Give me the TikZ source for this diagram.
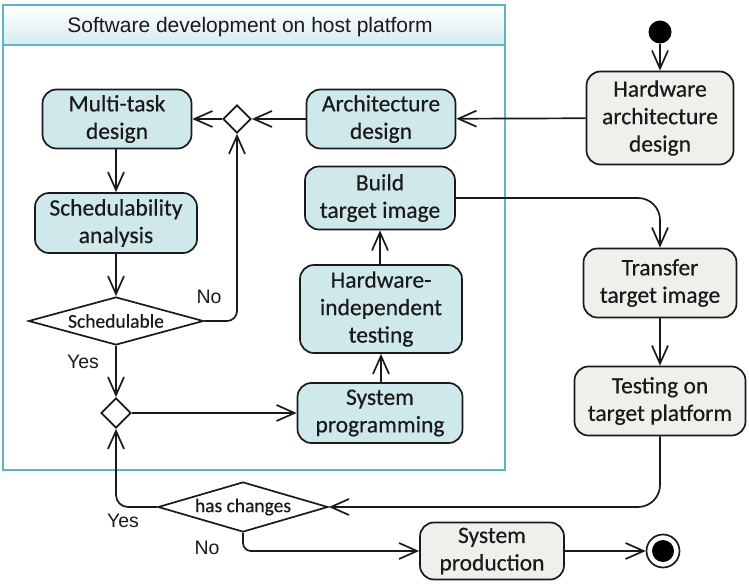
\documentclass[tikz,border=0pt]{standalone}
\usepackage{fontspec}
\usetikzlibrary{shapes.geometric,arrows.meta,positioning}
\newfontfamily\calfont[FakeBold=0.4]{Carlito}
\newfontfamily\arifont{Liberation Sans}
\definecolor{bluefill}{HTML}{CFE8EC}
\definecolor{grayfill}{HTML}{EFEFEC}
\definecolor{frame}{HTML}{5BB5C9}
\definecolor{ink}{HTML}{1A1A1A}
\tikzset{
  act/.style={draw=ink, line width=1.7pt, rounded corners=14pt, align=center, inner sep=2pt,
    font=\calfont\fontsize{23.5}{27.5}\selectfont, text=ink},
  blue/.style={act, fill=bluefill},
  gray/.style={act, fill=grayfill},
  dec/.style={draw=ink, line width=1.7pt, diamond, fill=white, inner sep=0pt,
    font=\calfont\fontsize{19.5}{21}\selectfont, text=ink},
  arr/.style={draw=ink, line width=1.7pt, -{Straight Barb[length=18pt,width=16pt,line width=1.7pt]}},
  lbl/.style={font=\arifont\fontsize{19.5}{22}\selectfont, text=ink, inner sep=0pt}
}
\begin{document}
\begin{tikzpicture}[x=1pt,y=-1pt]
\useasboundingbox (0,0) rectangle (749,585);
% container
\shade[top color=white, bottom color=bluefill!85] (3,5) rectangle (505,45);
\draw[frame, line width=1.6pt] (3,45) -- (505,45);
\draw[frame, line width=2pt] (3,5) rectangle (505,470);
\node[font=\arifont\fontsize{21}{24}\selectfont, text=ink] (title) at (250,27) {Software development on host platform};

% blue nodes
\node[blue, minimum width=149pt, minimum height=59pt] (mt) at (117,119) {Multi-task\\design};
\node[blue, minimum width=162pt, minimum height=60pt] (sa) at (116,223) {Schedulability\\analysis};
\node[blue, minimum width=149pt, minimum height=59pt] (ad) at (381,119) {Architecture\\design};
\node[blue, minimum width=150pt, minimum height=63pt] (bt) at (380,198) {Build\\target image};
\node[blue, minimum width=162pt, minimum height=88pt] (hi) at (381,309) {Hardware-\\independent\\testing};
\node[blue, minimum width=165pt, minimum height=60pt] (sp) at (380,413) {System\\programming};

% decisions
\node[dec, minimum width=28pt, minimum height=28pt] (d1) at (237,119) {};
\node[dec, aspect=3.6, minimum width=175pt, minimum height=48pt] (sch) at (116,321) {Schedulable};
\node[dec, minimum width=30pt, minimum height=30pt] (d2) at (116,413) {};
\node[dec, aspect=3.4, minimum width=170pt, minimum height=50pt] (hc) at (243,507) {has changes};

% gray nodes
\node[gray, minimum width=147pt, minimum height=93pt] (ha) at (660,118) {Hardware\\architecture\\design};
\node[gray, minimum width=153pt, minimum height=69pt] (tt) at (660,283) {Transfer\\target image};
\node[gray, minimum width=171pt, minimum height=69pt] (tp) at (660,401) {Testing on\\target platform};
\node[gray, minimum width=144pt, minimum height=57pt] (ps) at (492,551) {System\\production};

% initial / final
\node[circle, fill=black, minimum size=23pt, inner sep=0pt] (init) at (660,32) {};
\node[circle, draw=ink, line width=1.7pt, fill=white, minimum size=33pt, inner sep=0pt] (fin) at (663,551) {};
\node[circle, fill=black, minimum size=22pt, inner sep=0pt] (finin) at (fin) {};

% connectors
\draw[arr] (init) -- (ha);
\draw[arr] (ha) -- (ad);
\draw[arr] (ad) -- (d1);
\draw[arr] (d1) -- (mt);
\draw[arr] (mt.south -| sa.north) -- (sa.north);
\draw[arr] (sa) -- (sch);
\draw[arr, rounded corners=10pt] (sch.east) -| (d1.south);
\draw[arr] (sch) -- (d2);
\draw[arr] (d2) -- (sp);
\draw[arr] (sp.north -| hi.south) -- (hi.south);
\draw[arr] (hi.north -| bt.south) -- (bt.south);
\draw[arr, rounded corners=22pt] (bt.east) -| (tt.north);
\draw[arr] (tt) -- (tp);
\draw[arr, rounded corners=22pt] (tp.south) |- (hc.east);
\draw[arr, rounded corners=12pt] (hc.west) -| (d2.south);
\draw[arr, rounded corners=8pt] (hc.south) |- (ps.west);
\draw[arr] (ps) -- (fin);

% labels
\node[lbl] (lno1) at (209,297) {No};
\node[lbl] (lyes1) at (83,362) {Yes};
\node[lbl] (lyes2) at (123,521) {Yes};
\node[lbl] (lno2) at (207,548) {No};
\end{tikzpicture}
\end{document}
